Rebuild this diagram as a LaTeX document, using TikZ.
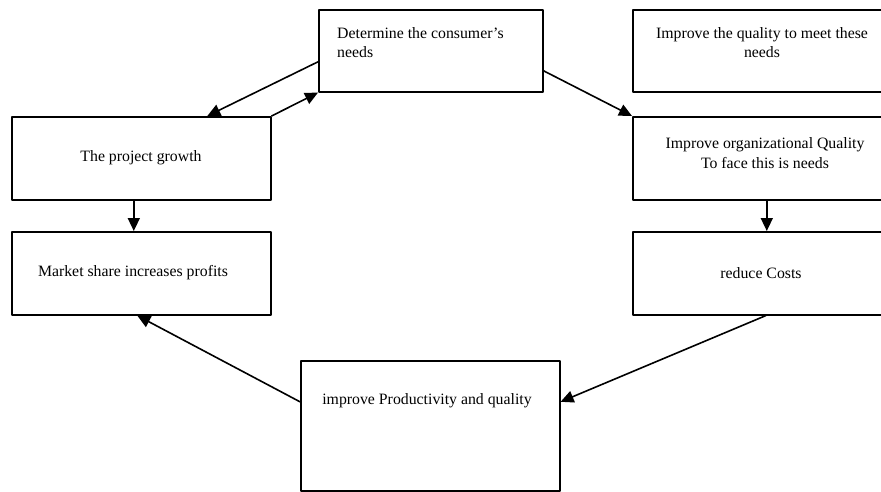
\documentclass[tikz,border=0pt]{standalone}
\usepackage{fontspec}
\setmainfont{Liberation Serif}
\usetikzlibrary{arrows.meta}

\begin{document}
\begin{tikzpicture}[line cap=round,line join=round,x=1pt,y=-1pt,
  >={Triangle[length=13pt,width=12pt]},
  box/.style={draw,line width=1.6pt,inner sep=0pt,anchor=north west},
  txt/.style={inner sep=0pt,font=\fontsize{15.8}{19.5}\selectfont},
  link/.style={->,line width=1.6pt}]
\useasboundingbox (0,0) rectangle (881,491);
\clip (0,0) rectangle (881,491);
% boxes
\node[box,minimum width=224pt,minimum height=82pt] (det) at (318,9) {};
\node[box,minimum width=260pt,minimum height=82pt] (qual) at (632,9) {};
\node[box,minimum width=259pt,minimum height=83pt] (grow) at (11,116) {};
\node[box,minimum width=260pt,minimum height=83pt] (org) at (632,116) {};
\node[box,minimum width=259pt,minimum height=83pt] (mkt) at (11,231) {};
\node[box,minimum width=260pt,minimum height=83pt] (cost) at (632,231) {};
\node[box,minimum width=259pt,minimum height=130pt] (prod) at (300,360) {};
% texts
\node[txt,anchor=west,align=left] (detTxt) at (337,42.5) {Determine the consumer's\\needs};
\node[txt,align=center] (qualTxt) at (762,42.5) {Improve the quality to meet these\\needs};
\node[txt] (growTxt) at (141,158) {The project growth};
\node[txt,align=center] (orgTxt) at (765,153) {Improve organizational Quality\\To face this is needs};
\node[txt] (mktTxt) at (133,273) {Market share increases profits};
\node[txt] (costTxt) at (761,273) {reduce Costs};
\node[txt] (prodTxt) at (427,401) {improve Productivity and quality};
% arrows
\draw[link] ([yshift=-11pt]det.west) -- ([xshift=66pt]grow.north);
\draw[link] (grow.north east) -- (det.south west);
\draw[link] ([yshift=-20pt]det.east) -- (org.north west);
\draw[link] ([xshift=-7.5pt]grow.south) -- ([xshift=-7.5pt]mkt.north);
\draw[link] ([xshift=4pt]org.south) -- ([xshift=4pt]cost.north);
\draw[link] ([xshift=3pt]cost.south) -- ([yshift=24pt]prod.east);
\draw[link] ([yshift=24pt]prod.west) -- ([xshift=-4pt]mkt.south);
\end{tikzpicture}
\end{document}
